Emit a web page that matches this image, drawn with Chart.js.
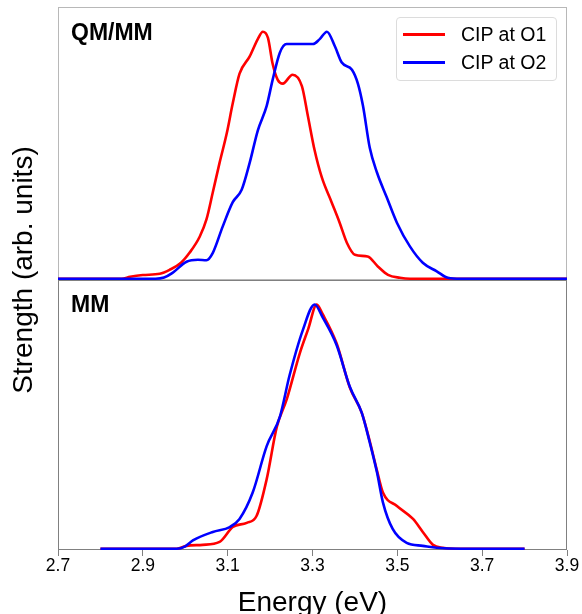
<!DOCTYPE html>
<html>
<head>
<meta charset="utf-8">
<script src="https://cdn.jsdelivr.net/npm/chart.js@4.4.1/dist/chart.umd.min.js"></script>
<style>
  html, body { margin: 0; padding: 0; background: #fff; width: 582px; height: 614px; overflow: hidden; }
  body { position: relative; font-family: "Liberation Sans", Arial, sans-serif; }
  #wrapTop { position: absolute; left: 0; top: 0; width: 582px; height: 292px; }
  #wrapBot { position: absolute; left: 0; top: 280px; width: 582px; height: 338px; }
  .panel-label { position: absolute; left: 71px; font-weight: bold; font-size: 23px; line-height: 23px; color: #000; }
  #ytitle { position: absolute; left: -127px; top: 256px; width: 300px; height: 28px; line-height: 28px; font-size: 28px; text-align: center; transform: rotate(-90deg); color: #000; white-space: nowrap; }
  #legend { position: absolute; left: 396px; top: 17px; width: 161px; height: 64px; border: 1px solid #dcdcdc; border-radius: 4px; background: rgba(255,255,255,0.8); box-sizing: border-box; }
  .lg-row { position: absolute; left: 0; height: 20px; display: flex; align-items: center; font-size: 19.5px; line-height: 20px; color: #000; white-space: nowrap; }
  .lg-line { width: 42px; height: 3px; margin-left: 6px; margin-right: 16px; }
</style>
</head>
<body>
<div id="wrapTop"><canvas id="cTop"></canvas></div>
<div id="wrapBot"><canvas id="cBot"></canvas></div>
<div class="panel-label" id="lblTop" style="top:21px;">QM/MM</div>
<div class="panel-label" id="lblBot" style="top:293px;">MM</div>
<div id="ytitle">Strength (arb. units)</div>
<div id="legend">
  <div class="lg-row" style="top:6px;"><div class="lg-line" style="background:#ff0000"></div><span id="lg1"></span></div>
  <div class="lg-row" style="top:34px;"><div class="lg-line" style="background:#0000ff"></div><span id="lg2"></span></div>
</div>
<script>
// ---- data ----
const seriesNames = ["CIP at O1", "CIP at O2"];
const xTicks = [2.7, 2.9, 3.1, 3.3, 3.5, 3.7, 3.9];

// Top panel (QM/MM)
const qmmmO1Energy = [2.70, 2.85, 2.87, 2.90, 2.94, 2.963, 2.99, 3.01, 3.034, 3.05, 3.065, 3.081, 3.098, 3.112, 3.128, 3.152, 3.171, 3.183, 3.195, 3.206, 3.218, 3.230, 3.253, 3.275, 3.289, 3.305, 3.322, 3.345, 3.364, 3.381, 3.400, 3.430, 3.454, 3.478, 3.506, 3.53, 3.90];
const qmmmO1Value  = [0, 0, 0.008, 0.015, 0.02, 0.036, 0.065, 0.105, 0.17, 0.24, 0.35, 0.47, 0.59, 0.71, 0.83, 0.90, 0.97, 1.0, 0.975, 0.87, 0.805, 0.79, 0.826, 0.78, 0.66, 0.52, 0.41, 0.31, 0.227, 0.146, 0.097, 0.09, 0.05, 0.016, 0.004, 0, 0];

const qmmmO2Energy = [2.70, 2.93, 2.95, 2.97, 3.003, 3.03, 3.05, 3.065, 3.088, 3.112, 3.133, 3.152, 3.171, 3.192, 3.206, 3.223, 3.239, 3.26, 3.277, 3.301, 3.317, 3.334, 3.353, 3.369, 3.393, 3.407, 3.419, 3.435, 3.452, 3.475, 3.499, 3.530, 3.560, 3.593, 3.619, 3.65, 3.90];
const qmmmO2Value  = [0, 0, 0.005, 0.024, 0.069, 0.077, 0.075, 0.105, 0.21, 0.31, 0.36, 0.47, 0.60, 0.70, 0.805, 0.915, 0.95, 0.95, 0.95, 0.95, 0.97, 1.0, 0.94, 0.875, 0.846, 0.79, 0.70, 0.53, 0.43, 0.33, 0.227, 0.13, 0.065, 0.03, 0.004, 0, 0];

// Bottom panel (MM)
const mmO1Energy = [2.80, 2.98, 3.003, 3.041, 3.081, 3.112, 3.145, 3.168, 3.192, 3.216, 3.239, 3.270, 3.290, 3.31, 3.324, 3.357, 3.388, 3.416, 3.435, 3.452, 3.466, 3.499, 3.537, 3.560, 3.584, 3.607, 3.65, 3.80];
const mmO1Value  = [0, 0, 0.012, 0.016, 0.028, 0.089, 0.106, 0.134, 0.285, 0.5, 0.61, 0.80, 0.9, 1.0, 0.96, 0.84, 0.66, 0.557, 0.44, 0.32, 0.23, 0.175, 0.122, 0.069, 0.016, 0.004, 0, 0];

const mmO2Energy = [2.80, 2.98, 3.00, 3.018, 3.065, 3.105, 3.128, 3.159, 3.192, 3.223, 3.246, 3.277, 3.305, 3.324, 3.357, 3.388, 3.416, 3.435, 3.452, 3.466, 3.489, 3.522, 3.560, 3.593, 3.65, 3.80];
const mmO2Value  = [0, 0, 0.01, 0.034, 0.069, 0.089, 0.122, 0.23, 0.42, 0.54, 0.71, 0.894, 1.0, 0.947, 0.833, 0.663, 0.557, 0.435, 0.313, 0.19, 0.081, 0.024, 0.012, 0.004, 0, 0];

// ---- helpers ----
const pts = (xs, ys) => xs.map((x, i) => ({ x: x, y: ys[i] }));
const FONT = '"Liberation Sans", Arial, sans-serif';
document.getElementById('lg1').textContent = seriesNames[0];
document.getElementById('lg2').textContent = seriesNames[1];

// order: blue (O2) drawn on top of red (O1), as in the reference
function ds(label, data, color, order) {
  return { label, data, borderColor: color, backgroundColor: color, borderWidth: 2.6, order,
           pointRadius: 0, fill: false, cubicInterpolationMode: 'monotone', clip: 4 };
}

function boxPlugin(color) {
  return {
    id: 'box',
    beforeDatasetsDraw(chart) {
      const a = chart.chartArea, c = chart.ctx;
      c.save();
      c.strokeStyle = color;
      c.lineWidth = 1;
      c.strokeRect(Math.round(a.left) + 0.5, Math.round(a.top) + 0.5,
                   Math.round(a.right - a.left) - 1, Math.round(a.bottom - a.top) - 1);
      c.restore();
    }
  };
}

// ---- top chart ----
new Chart(document.getElementById('cTop'), {
  type: 'line',
  data: { datasets: [ ds(seriesNames[0], pts(qmmmO1Energy, qmmmO1Value), '#ff0000', 1),
                      ds(seriesNames[1], pts(qmmmO2Energy, qmmmO2Value), '#0000ff', 0) ] },
  options: {
    responsive: true, maintainAspectRatio: false, animation: false,
    layout: { padding: { left: 58, right: 15, top: 7, bottom: 12 } },
    plugins: { legend: { display: false }, tooltip: { enabled: false } },
    scales: {
      x: { type: 'linear', min: 2.7, max: 3.9, display: false },
      y: { min: -0.005, max: 1.1, display: false }
    }
  },
  plugins: [boxPlugin('#b8b8b8')]
});

// ---- bottom chart ----
new Chart(document.getElementById('cBot'), {
  type: 'line',
  data: { datasets: [ ds(seriesNames[0], pts(mmO1Energy, mmO1Value), '#ff0000', 1),
                      ds(seriesNames[1], pts(mmO2Energy, mmO2Value), '#0000ff', 0) ] },
  options: {
    responsive: true, maintainAspectRatio: false, animation: false,
    layout: { padding: { left: 58, right: 15, top: 0, bottom: 0 } },
    plugins: { legend: { display: false }, tooltip: { enabled: false } },
    scales: {
      x: {
        type: 'linear', min: 2.7, max: 3.9,
        afterBuildTicks: (s) => { s.ticks = xTicks.map(v => ({ value: v })); },
        afterFit: (s) => { s.height = 68; },
        grid: { display: true, drawOnChartArea: false, drawTicks: true, tickLength: 6, tickColor: '#808080', tickWidth: 1 },
        border: { display: false },
        ticks: { padding: 0, color: '#000', font: { family: FONT, size: 17.5 }, maxRotation: 0,
                 callback: (v) => Number(v).toFixed(1) },
        title: { display: true, text: 'Energy (eV)', color: '#000', font: { family: FONT, size: 28, lineHeight: 1 },
                 padding: { top: 0, bottom: 1 } }
      },
      y: { min: -0.005, max: 1.1, display: false }
    }
  },
  plugins: [boxPlugin('#808080')]
});
</script>
</body>
</html>
